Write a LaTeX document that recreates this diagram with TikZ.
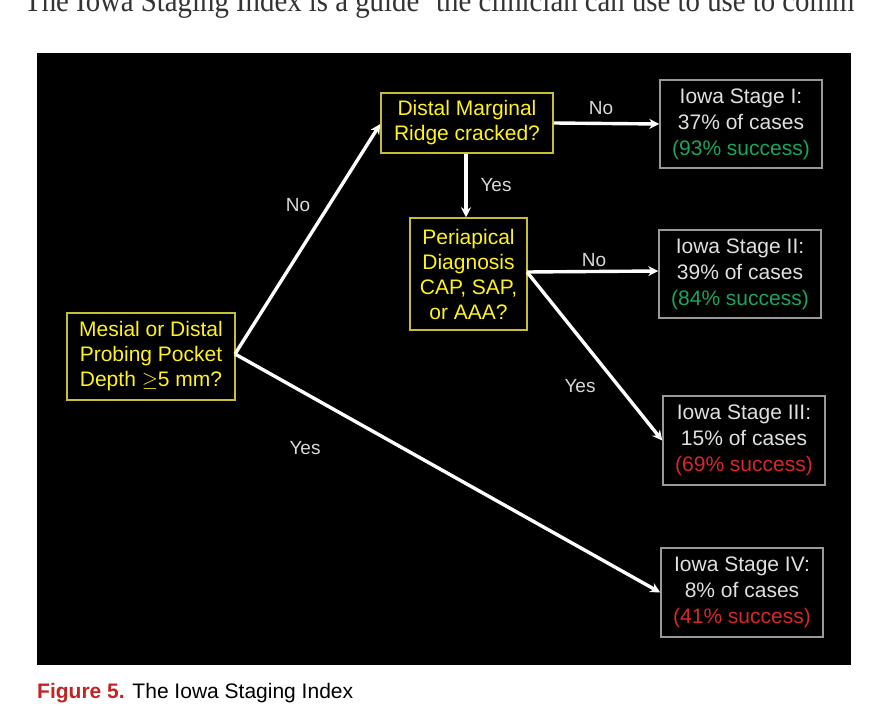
\documentclass[tikz,border=0pt]{standalone}
\usepackage{fontspec}
\usetikzlibrary{arrows.meta}
\setmainfont{Liberation Sans}
\newfontfamily\serifx{Liberation Serif}
\definecolor{okg}{RGB}{25,165,95}
\definecolor{badr}{RGB}{215,40,40}
\begin{document}
\begin{tikzpicture}[x=1pt,y=-1pt,
  q/.style={draw=yellow!75!black,line width=1.5pt,text=yellow!90!white,align=center,inner sep=2pt,font=\fontsize{21}{25}\selectfont},
  s/.style={draw=gray!80,line width=1.5pt,text=white!88!black,align=center,inner sep=2pt,font=\fontsize{21}{26}\selectfont},
  ar/.style={draw=white,line width=3.4pt,-{Stealth[length=10pt,width=10pt]}},
  lb/.style={text=white!85!black,font=\fontsize{19}{22}\selectfont}]
\useasboundingbox (0,0) rectangle (888,708);
\fill[white] (0,0) rectangle (888,708);
\begin{scope}
\clip (0,0) rectangle (888,40);
\node[anchor=base west,inner sep=0,font=\serifx\fontsize{32}{34}\selectfont,text=black!80,xscale=0.9] at (24,12) {The Iowa Staging Index is a guide\,\, the clinician can use to use to comm};
\end{scope}
\fill[black] (37,53) rectangle (851,665);
\node[q,minimum width=168pt,minimum height=87pt] (m) at (151,356.5) {Mesial or Distal\\Probing Pocket\\Depth $\geq$5 mm?};
\node[q,minimum width=172pt,minimum height=60pt] (d) at (467,123) {Distal Marginal\\Ridge cracked?};
\node[q,minimum width=117pt,minimum height=112pt] (p) at (468.5,274) {Periapical\\Diagnosis\\CAP, SAP,\\or AAA?};
\node[s,minimum width=162pt,minimum height=88pt] (s1) at (741,124) {Iowa Stage I:\\37\% of cases\\\textcolor{okg}{(93\% success)}};
\node[s,minimum width=162pt,minimum height=88pt] (s2) at (740,274) {Iowa Stage II:\\39\% of cases\\\textcolor{okg}{(84\% success)}};
\node[s,minimum width=162pt,minimum height=89pt] (s3) at (744,440.5) {Iowa Stage III:\\15\% of cases\\\textcolor{badr}{(69\% success)}};
\node[s,minimum width=162pt,minimum height=89pt] (s4) at (742,592.5) {Iowa Stage IV:\\8\% of cases\\\textcolor{badr}{(41\% success)}};
\coordinate (mr) at (235,354);
\coordinate (pr) at (527,272);
\draw[ar] (mr) -- (d.south west |- 0,124);
\draw[ar] (mr) -- (s4.west);
\draw[ar] (d.east) -- (s1.west);
\draw[ar] (d.south -| 466,0) -- (p.north -| 466,0);
\draw[ar] (pr) -- (s2.west |- 0,271);
\draw[ar] (pr) -- (s3.west);
\node[lb] (l1) at (298,205) {No};
\node[lb] (l2) at (305,448) {Yes};
\node[lb] (l3) at (601,108) {No};
\node[lb] (l4) at (496,185) {Yes};
\node[lb] (l5) at (594,260) {No};
\node[lb] (l6) at (580,386) {Yes};
\node[anchor=west,inner sep=0,font=\fontsize{21}{25}\selectfont] (cap) at (37,693) {\textcolor{badr!90!black}{\textbf{Figure 5.}} The Iowa Staging Index};
\end{tikzpicture}
\end{document}
